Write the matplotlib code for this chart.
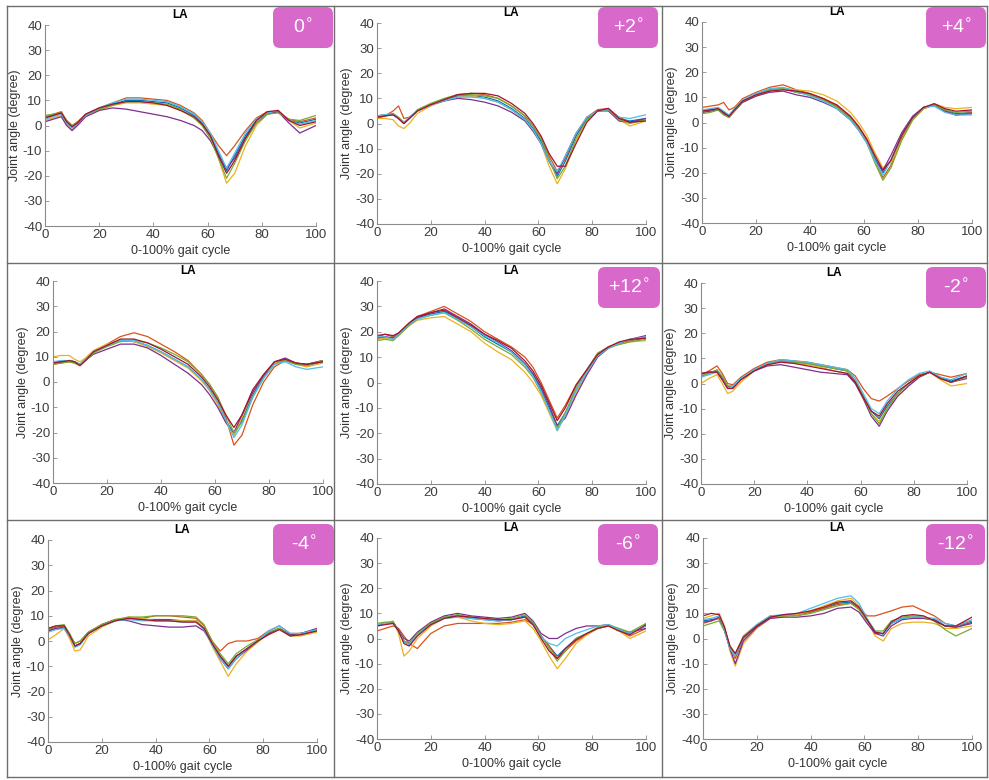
import matplotlib
matplotlib.use("Agg")
import matplotlib.pyplot as plt
from matplotlib.patches import FancyBboxPatch
from matplotlib.lines import Line2D

plt.rcParams['font.family'] = ['Liberation Sans', 'DejaVu Sans']
plt.rcParams['axes.unicode_minus'] = False

# gait cycle sample points (% of cycle)
GAIT_PCT = [0, 3, 6, 8, 10, 12, 15, 20, 25, 30, 35, 40, 45, 50, 55, 58,
            61, 64, 67, 70, 74, 78, 82, 86, 90, 94, 100]

# LA joint angle trials (degree) for each slope condition
SLOPE_0 = [
    [3, 4, 5, 1, -1, 1, 4, 6.5, 8.5, 10, 10, 9.5, 9, 7, 4, 1, -4, -11, -18, -12, -4, 2, 5, 5.5, 2, 1, 2.5],
    [3.5, 4.5, 5.5, 2, 0, 1.5, 4.5, 7, 9, 11, 11, 10.5, 10, 8, 5, 2, -3, -8, -12, -8, -2, 3, 5.5, 5.5, 2.5, 1.5, 3],
    [2, 3, 4, 0, -2, 0.5, 3.5, 6, 8, 9, 9, 8.5, 8, 6, 3, 0, -5, -13, -23, -19, -8, 0, 4.5, 6, 2, -1, 1],
    [1.5, 2.5, 3.5, 0, -2, 0, 3.5, 6, 7, 6.5, 5.5, 4.5, 3.5, 2, 0, -2, -6, -12, -17, -13, -5, 1, 4.5, 5.5, 1, -3, 0],
    [4, 4.5, 5, 2, 0, 1, 4, 6.5, 8, 9.5, 9.5, 9, 8.5, 6.5, 3, 0, -5, -13, -21, -15, -6, 1, 4.5, 5, 2.5, 2, 4],
    [2.5, 3.5, 4.5, 1, -1, 1, 4, 7, 9, 10.5, 10.5, 10, 9.5, 7.5, 4.5, 1.5, -3, -10, -17, -11, -3, 2.5, 5, 6, 2, 0.5, 2],
    [3, 4, 5, 1.5, -0.5, 1, 4.5, 7, 8.5, 9.5, 9.5, 9, 8, 6, 3.5, 0.5, -4, -12, -19, -14, -5, 2, 5.5, 6, 2, 0, 1.5],
]
SLOPE_P2 = [
    [2.5, 3, 3.5, 2, 0, 2, 5, 7.5, 9, 11, 11, 10.5, 9, 6, 2, -2, -7, -15, -21, -15, -5, 2, 5, 5.5, 2, 1, 2],
    [2, 3, 5, 7, 2, 2.5, 5, 7.5, 9.5, 11.5, 12, 11.5, 10, 7, 3, -1, -6, -13, -19, -14, -4, 2.5, 5.5, 6, 2.5, 0.5, 1.5],
    [2, 2, 1.5, -1, -2, 0, 4, 7, 9, 10.5, 11, 10, 8.5, 5.5, 1.5, -3, -8, -17, -24, -18, -7, 1, 5, 5.5, 1.5, -1, 1],
    [3, 3.5, 3.5, 2, 0, 2, 5, 7.5, 9, 10, 9.5, 8.5, 7, 4.5, 1, -3, -8, -15, -20, -13, -4, 2, 5, 5, 1, 0.5, 2],
    [3, 3.5, 4, 2.5, 0.5, 2, 5.5, 8, 10, 11.5, 11.5, 11, 10, 7, 3, -1, -6, -14, -22, -17, -6, 1.5, 5, 5.5, 1.5, 0, 1.5],
    [3, 3.5, 3.5, 2, 0.5, 2.5, 5, 7.5, 9, 10.5, 10.5, 10, 8.5, 5.5, 1.5, -2.5, -8, -15, -19, -13, -4, 2.5, 5, 5.5, 2.5, 2, 3.5],
    [2.5, 3, 3.5, 2, 0, 2, 5, 7.5, 9.5, 11.5, 12, 12, 11, 8, 4, 0, -5, -12, -17, -17, -8, 0.5, 5, 6, 2, 0.5, 1],
]
SLOPE_P4 = [
    [4.5, 5, 5.5, 4, 2.5, 5, 8.5, 11, 13, 13.5, 12, 11, 9, 6.5, 2, -2, -7, -14, -20, -15, -5, 2, 6, 7, 5, 3.5, 4],
    [6, 6.5, 7, 8, 5, 6, 9.5, 12, 14, 15, 13, 11.5, 9.5, 6.5, 2, -2, -7, -15, -22, -17, -6, 1.5, 5.5, 7, 4.5, 3, 4],
    [4, 4.5, 5, 3.5, 2, 4.5, 8, 10.5, 12.5, 13.5, 13, 12.5, 11, 8.5, 4, 0, -5, -12, -18, -16, -7, 1, 5.5, 7.5, 6, 5.5, 6],
    [4, 4.5, 5, 3.5, 2, 4.5, 8, 10.5, 12, 12.5, 11, 10, 8, 5.5, 1, -3, -8, -15, -19, -13, -4, 2.5, 6, 7, 4.5, 3, 3.5],
    [3.5, 4, 5, 3, 2, 4.5, 8.5, 11, 13, 13.5, 12, 11, 9, 6, 1.5, -2.5, -8, -16, -23, -18, -7, 1, 5.5, 7, 5, 4, 4.5],
    [5, 5.5, 6, 4.5, 3, 5.5, 9, 11.5, 13.5, 14, 12.5, 10.5, 8.5, 5.5, 1, -3, -8, -15, -21, -15, -5, 2, 6, 6.5, 4, 3, 3],
    [4.5, 5, 5.5, 4, 2.5, 5, 8.5, 11, 12.5, 13, 12.5, 11.5, 9.5, 7, 2.5, -1.5, -6.5, -13, -19, -15, -5, 2, 6, 7.5, 5.5, 4.5, 5],
]
SLOPE_P8 = [
    [8, 8, 8.5, 8, 7, 9, 12, 14.5, 16.5, 16, 14.5, 12, 9, 6, 1, -3, -8, -15, -21, -15, -5, 2, 7.5, 8.5, 7, 6.5, 8],
    [7, 7.5, 8, 7.5, 6.5, 8.5, 12, 15, 18, 19.5, 18, 15, 12, 8.5, 3, -1, -6, -14, -25, -21, -9, 0, 6, 8.5, 7.5, 7, 8.5],
    [10, 10.5, 10.5, 9, 8, 9.5, 12.5, 15, 16.5, 16, 14, 11.5, 8.5, 5.5, 0.5, -3.5, -9, -16, -21, -14, -4, 2.5, 7.5, 9, 7, 6, 7.5],
    [7.5, 8, 8.5, 8, 7, 8.5, 11, 13, 15, 15, 13.5, 10.5, 7, 3.5, -1, -5, -10, -16, -20, -13, -4, 2.5, 8, 9.5, 7.5, 7, 8.5],
    [7, 7.5, 8, 7.5, 6.5, 8.5, 11.5, 14, 16, 16.5, 15.5, 13.5, 11, 8, 3, -1, -6, -13, -20, -16, -6, 1.5, 7, 8.5, 7, 6.5, 8.5],
    [8, 8.5, 8.5, 8, 7, 9, 12, 14.5, 16.5, 16.5, 14.5, 12, 9, 6, 1, -3, -8, -15, -22, -17, -6, 1.5, 7, 8, 6, 5, 6],
    [7.5, 8, 8.5, 8, 6.5, 8.5, 12, 14.5, 17, 17, 15.5, 13, 10, 7, 2, -2, -7, -13, -18, -13, -3, 3, 8, 9, 7.5, 7, 8],
]
SLOPE_P12 = [
    [17.5, 18, 17.5, 19, 21, 23, 25.5, 27, 28, 25, 22, 18, 15, 12, 7, 3, -3, -10, -17, -12, -3, 4, 11, 14, 15.5, 16.5, 17.5],
    [18, 19, 18, 19.5, 21.5, 23.5, 26, 28, 30, 27, 24, 20, 17, 14, 10, 6, 0, -7, -14, -9, -1, 5, 11.5, 14, 15.5, 16.5, 18],
    [17, 17.5, 17, 18.5, 20.5, 22.5, 24.5, 25.5, 26, 23, 20, 15.5, 12, 9, 4, 0, -5, -12, -19, -13, -4, 3.5, 11, 13.5, 15, 16, 16.5],
    [17.5, 18, 17.5, 19, 21, 23, 25.5, 27.5, 29, 26, 23, 19, 16, 12.5, 7.5, 3.5, -2, -9, -17, -14, -5, 3, 10, 13.5, 15.5, 17, 18.5],
    [16.5, 17, 16.5, 18.5, 20.5, 22.5, 25, 26.5, 27.5, 24.5, 21, 17, 14, 11, 6, 2, -4, -11, -18, -12, -2, 5, 11.5, 14, 15, 16, 17],
    [18, 18, 17, 19, 21, 23, 25, 26.5, 27.5, 25, 22, 18.5, 15.5, 12, 7, 2.5, -3.5, -11, -19, -13, -3, 4, 10.5, 13.5, 15.5, 17, 18],
    [18.5, 19, 18.5, 19.5, 21.5, 23.5, 26, 27.5, 28.5, 25.5, 22.5, 19, 16.5, 13.5, 8.5, 4.5, -1, -8, -15, -10, -1, 5, 11, 14, 16, 17, 17.5],
]
SLOPE_M2 = [
    [3, 4, 5, 2, -1.5, -1, 2, 5.5, 8, 9, 8.5, 8, 7, 6, 5, 1, -5, -11, -14, -9, -4, 0, 3, 4.5, 2.5, 1, 3],
    [3.5, 5, 7, 4, 0, -0.5, 2.5, 6, 8.5, 9.5, 9, 8.5, 7.5, 6.5, 5.5, 3, -2, -6, -7, -5, -2, 1, 3.5, 4.5, 3.5, 2.5, 4],
    [0, 2, 3.5, 0, -4, -3, 0.5, 5, 7.5, 8.5, 8, 7.5, 6.5, 5, 4, 0, -6, -12, -15, -10, -5, -1, 2.5, 4.5, 1.5, -1, 0],
    [4, 4.5, 5, 2, -1, -1.5, 1.5, 5, 7, 7.5, 6.5, 5.5, 4.5, 4, 3.5, 0, -6, -13, -17, -11, -5, -1, 2.5, 4.5, 2, 0.5, 2],
    [3, 4, 5.5, 3, -1, -1, 2, 5.5, 8, 9, 8.5, 8, 7, 6, 5, 1, -5, -12, -16, -10, -4, 0, 3, 4.5, 2, 0.5, 2.5],
    [2.5, 3.5, 4.5, 1.5, -2, -1, 2, 5.5, 8, 9.5, 9, 8.5, 7.5, 6.5, 5.5, 2, -4, -10, -12, -7, -2, 1.5, 4, 5, 2.5, 1.5, 4],
    [4, 4.5, 4.5, 1.5, -2, -2, 1.5, 5, 7.5, 8.5, 8, 7, 6, 5, 4, 0.5, -5.5, -11, -13, -8, -3, 0, 3, 4.5, 2, 0.5, 3],
]
SLOPE_M4 = [
    [4, 5, 5.5, 2, -2, -1, 3, 6, 8, 9, 8.5, 8.5, 8.5, 8, 8, 5, -1, -6, -10, -6, -3, 0, 3, 5, 2.5, 3, 4.5],
    [4.5, 5.5, 6, 2.5, -1, 0, 3.5, 6.5, 8.5, 9, 9, 10, 10, 9.5, 9, 6, 0, -4, -1, 0, 0, 1, 4, 6, 3, 3, 4],
    [0.5, 2.5, 5, 1, -4, -3.5, 2, 5.5, 8, 9.5, 9, 8, 8, 8, 8, 5, -2, -8, -14, -9, -4, -0.5, 3, 5, 2, 2, 3.5],
    [4, 5, 5, 2, -2, -1, 3, 6.5, 8.5, 8, 6.5, 6, 5.5, 5.5, 6, 4, -1, -7, -11, -7, -3.5, 0, 3, 5, 2.5, 3, 5],
    [5, 6, 6.5, 3, -1, 0, 3.5, 6.5, 8.5, 9.5, 9.5, 10, 10, 10, 9.5, 6.5, 0, -5, -9, -5, -2, 0.5, 3.5, 5, 2, 2.5, 4],
    [3.5, 4.5, 5, 2, -2.5, -1.5, 3, 6, 8, 8.5, 8, 8, 8, 7.5, 7.5, 4.5, -1.5, -7, -11, -7, -3, 0, 4, 6, 3, 3, 4.5],
    [5, 6, 6, 2.5, -2, -1, 3, 6, 8, 9, 8.5, 8, 8, 7.5, 7.5, 5, -1, -6, -10, -6, -3, 0, 2.5, 4.5, 2, 2.5, 4],
]
SLOPE_M6 = [
    [5.5, 6, 6, 3, -1, -2, 2, 6, 8.5, 9, 8, 7.5, 7, 7.5, 9, 6, 1, -3, -7, -4, 0, 2, 4, 5, 3.5, 2, 5],
    [3, 4, 5, 4, 1, -2, -4, 2, 5, 6, 6, 6, 6, 6.5, 7.5, 5.5, 1, -3, -8, -5, -1, 1.5, 4, 5, 3, 1, 4],
    [5, 6, 7, 2, -7, -5, 0, 5, 8, 8.5, 7, 6, 5.5, 6, 7, 4, -1, -7, -12, -8, -2, 1.5, 4, 5, 3, 0, 3],
    [5, 6, 6.5, 3.5, 0, -1, 2.5, 6.5, 9, 10, 9, 8.5, 8, 8.5, 10, 7, 2, 0, 0, 2, 4, 5, 5, 5.5, 3.5, 2.5, 4],
    [6, 6.5, 6.5, 3, -1, -2, 2, 6, 8.5, 9.5, 8.5, 8, 7.5, 8, 9.5, 6.5, 1, -4, -9, -5, 0, 2, 4.5, 5.5, 4, 2.5, 6],
    [5.5, 6, 6, 3, -1.5, -2.5, 1.5, 5.5, 8, 8.5, 8, 7.5, 7, 7.5, 8.5, 5.5, 0.5, -2, -3, 0, 2, 3.5, 5, 5.5, 3.5, 2, 5],
    [5, 5.5, 6, 3, -2, -3, 1, 5.5, 8, 9, 8.5, 8, 7.5, 7.5, 8.5, 5.5, 0, -5, -8, -4, -0.5, 2, 4, 5, 3, 1.5, 5.5],
]
SLOPE_M12 = [
    [7, 7.5, 8, 3, -4, -7, 0, 5, 8.5, 9, 9.5, 10.5, 12, 14, 14.5, 12, 7, 2, 2, 6, 8, 8.5, 8, 7.5, 5, 4.5, 6.5],
    [6, 7, 8, 4, -3, -8, 0, 5, 8.5, 9, 9.5, 10.5, 12, 13.5, 14, 12, 9, 9, 10, 11, 12.5, 13, 11, 9, 6, 5, 7],
    [8, 9, 10, 5, -5, -11, -2, 4, 8, 9, 9.5, 11, 13, 15, 16, 13, 7, 1, -1, 4, 6, 6.5, 6.5, 6, 4, 4, 5],
    [6.5, 7, 8.5, 4, -4, -10, -1, 4.5, 8, 8.5, 8.5, 9, 10, 12, 12.5, 10.5, 6, 2, 1, 5, 7.5, 8, 8, 7.5, 5, 4.5, 6],
    [5, 6, 7, 3, -3, -6, 1, 5.5, 9, 9, 9, 10, 11.5, 13, 14, 11.5, 7, 3, 3, 7, 8.5, 9, 8.5, 7, 3.5, 1, 4],
    [7.5, 8, 9, 4, -4, -7, 0.5, 5.5, 9, 9.5, 10, 12, 14, 16, 17, 14, 8, 3, 1.5, 6, 8, 8.5, 8.5, 8, 6, 5, 7.5],
    [9, 10, 9.5, 4.5, -3, -6, 0.5, 5, 8.5, 9.5, 10, 11, 12.5, 14.5, 15, 12.5, 7.5, 2.5, 2, 6.5, 9, 9.5, 9, 7, 5, 5, 8.5],
]

PANELS = [SLOPE_0, SLOPE_P2, SLOPE_P4, SLOPE_P8, SLOPE_P12, SLOPE_M2, SLOPE_M4, SLOPE_M6, SLOPE_M12]
SLOPE_LABELS = ['0', '+2', '+4', None, '+12', '-2', '-4', '-6', '-12']

# MATLAB default line colour order
COLORS = ['#0072BD', '#D95319', '#EDB120', '#7E2F8E', '#77AC30', '#4DBEEE', '#A2142F']

W, H = 989, 780
# axes boxes in pixels: x_left, x_right, y_top, y_bottom
AXES_PX = [
    (45, 316, 25, 226), (377, 646, 23, 224), (702, 972, 22, 223),
    (53, 323, 281, 483), (377, 646, 281, 484), (701, 967, 283, 484),
    (48, 317, 540, 742), (377, 646, 538, 739), (703, 972, 538, 739),
]
# pink label boxes in pixels
BOX_PX = [
    (273, 333, 7, 48), (598, 658, 7, 48), (926, 986, 7, 48),
    None, (598, 660, 267, 308), (926, 986, 267, 308),
    (273, 334, 524, 565), (598, 658, 524, 565), (926, 985, 524, 565),
]

fig = plt.figure(figsize=(W / 100, H / 100), dpi=100)
fig.patch.set_facecolor('white')

for i, curves in enumerate(PANELS):
    x0, x1, yt, yb = AXES_PX[i]
    ax = fig.add_axes([x0 / W, 1 - yb / H, (x1 - x0) / W, (yb - yt) / H])
    for j, trial in enumerate(curves):
        ax.plot(GAIT_PCT, trial, color=COLORS[j % len(COLORS)], lw=0.9)
    ax.set_xlim(0, 100)
    ax.set_ylim(-40, 40)
    ax.set_xticks(range(0, 101, 20))
    ax.set_yticks(range(-40, 41, 10))
    for side in ['top', 'right']:
        ax.spines[side].set_visible(False)
    for side in ['left', 'bottom']:
        ax.spines[side].set_color('#8a8a8a')
        ax.spines[side].set_linewidth(0.8)
    ax.tick_params(direction='in', length=3, width=0.6, colors='#8a8a8a',
                   labelcolor='#3c3c3c', labelsize=9.5, pad=2)
    ax.set_xlabel('0-100% gait cycle', fontsize=9, color='#333333', labelpad=3)
    ax.set_ylabel('Joint angle (degree)', fontsize=9, color='#333333', labelpad=1)
    ax.set_title('LA', fontsize=8.5, fontweight='bold', pad=5)

# slope condition tags
for box, lab in zip(BOX_PX, SLOPE_LABELS):
    if box is None or lab is None:
        continue
    bx0, bx1, by0, by1 = box
    fig.patches.append(FancyBboxPatch(
        (bx0 / 100, (H - by1) / 100), (bx1 - bx0) / 100, (by1 - by0) / 100,
        boxstyle='round,pad=0,rounding_size=0.07', transform=fig.dpi_scale_trans,
        fc='#D968CB', ec='none', zorder=5))
    fig.text((bx0 + bx1) / 2 / W, 1 - (by0 + by1) / 2 / H, lab + r'$^{\circ}$',
             color='white', fontsize=14, ha='center', va='center', zorder=6)

# panel frame lines
frame = '#6e6e6e'
segments = [
    ((7, 987), (6, 6)), ((7, 987), (777, 777)), ((7, 7), (6, 777)), ((987, 987), (6, 777)),
    ((334, 334), (6, 777)), ((662, 662), (6, 777)),
    ((7, 987), (263, 263)), ((7, 987), (520, 520)),
]
for xs, ys in segments:
    fig.add_artist(Line2D([x / W for x in xs], [1 - y / H for y in ys],
                          transform=fig.transFigure, color=frame, lw=1, zorder=1))

fig.savefig('out.png', dpi=100)
